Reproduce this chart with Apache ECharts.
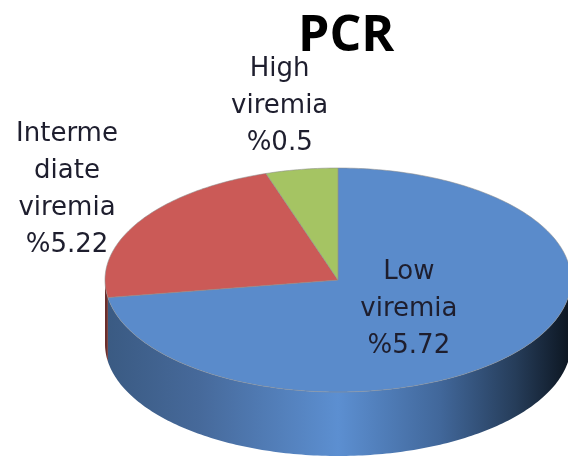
<!DOCTYPE html>
<html>
<head>
<meta charset="utf-8">
<script src="https://cdn.jsdelivr.net/npm/echarts@6/dist/echarts.min.js"></script>
<style>
html, body { margin: 0; padding: 0; background: #fff; }
#chart { width: 568px; height: 459px; }
</style>
</head>
<body>
<div id="chart"></div>
<script>
// chart data
const categories = ['Low viremia', 'Intermediate viremia', 'High viremia']
const values = [72.5, 22.5, 5]
const labelTexts = ['Low\nviremia\n%5.72', 'Interme\ndiate\nviremia\n%5.22', 'High\nviremia\n%0.5']

// colours of the top face and of the side wall
const topColors = ['#5A8BCB', '#CB5A57', '#A5C463']
const sideStops = [
  [[0, '#3A5A82'], [0.2, '#46699A'], [0.5, '#5C8FD1'], [0.72, '#41679A'], [0.88, '#263D5A'], [1, '#0C1520']],
  [[0, '#6A2E2C'], [0.5, '#C0504D'], [1, '#3A1514']],
  [[0, '#5E7634'], [0.5, '#9BBB59'], [1, '#2E3A19']]
]

// pie geometry (pixels)
const cx = 338, cy = 280, rx = 233, ry = 112, depth = 64

const total = values.reduce((a, b) => a + b, 0)
const starts = []
let acc = 0
values.forEach(v => { starts.push(acc); acc += v })

function arcPts (a0, a1, dy) {
  const pts = []
  const n = Math.max(2, Math.ceil(Math.abs(a1 - a0)))
  for (let k = 0; k <= n; k++) {
    const a = (a0 + (a1 - a0) * k / n) * Math.PI / 180
    pts.push([cx + rx * Math.cos(a), cy + ry * Math.sin(a) + dy])
  }
  return pts
}

function renderItem (params, api) {
  const i = params.dataIndex
  const v = api.value(0)
  const a0 = -90 + 360 * starts[i] / total
  const a1 = a0 + 360 * v / total
  const children = []

  // side wall (front half only)
  const grad = new echarts.graphic.LinearGradient(cx - rx, 0, cx + rx, 0,
    sideStops[i].map(s => ({ offset: s[0], color: s[1] })), true)
  ;[[0, 180], [360, 540], [-360, -180]].forEach(r => {
    const lo = Math.max(a0, r[0])
    const hi = Math.min(a1, r[1])
    if (hi > lo) {
      const pts = arcPts(lo, hi, 0).concat(arcPts(lo, hi, depth).reverse())
      children.push({
        type: 'polygon',
        shape: { points: pts },
        style: { fill: grad, stroke: null },
        z2: 5
      })
    }
  })

  // top face
  children.push({
    type: 'polygon',
    shape: { points: [[cx, cy]].concat(arcPts(a0, a1, 0)) },
    style: { fill: topColors[i], stroke: 'rgba(140,140,140,0.7)', lineWidth: 0.8 },
    z2: 10
  })

  // label
  const mid = (a0 + a1) / 2 * Math.PI / 180
  let lx, ly
  if (v / total > 0.5) {
    lx = cx + 0.4 * rx * Math.cos(mid)
    ly = cy + 0.4 * ry * Math.sin(mid)
  } else {
    lx = cx + 1.6 * rx * Math.cos(mid)
    ly = cy + 1.6 * ry * Math.sin(mid) + 3
    lx = Math.min(Math.max(lx, 67), 568 - 67)
  }
  children.push({
    type: 'text',
    x: lx,
    y: ly,
    style: {
      text: labelTexts[i],
      fill: '#1E1E2E',
      font: '26px "DejaVu Sans"',
      lineHeight: 37,
      align: 'center',
      verticalAlign: 'middle'
    },
    z2: 20
  })

  return { type: 'group', children: children }
}

const chart = echarts.init(document.getElementById('chart'))
chart.setOption({
  animation: false,
  title: {
    text: 'PCR',
    left: 293,
    top: 7,
    textStyle: {
      fontFamily: 'Open Sans',
      fontWeight: 'bold',
      fontSize: 50,
      color: '#000'
    }
  },
  series: [{
    type: 'custom',
    coordinateSystem: 'none',
    silent: true,
    data: values.map((v, i) => ({ name: categories[i], value: [v] })),
    renderItem: renderItem
  }]
})
</script>
</body>
</html>
